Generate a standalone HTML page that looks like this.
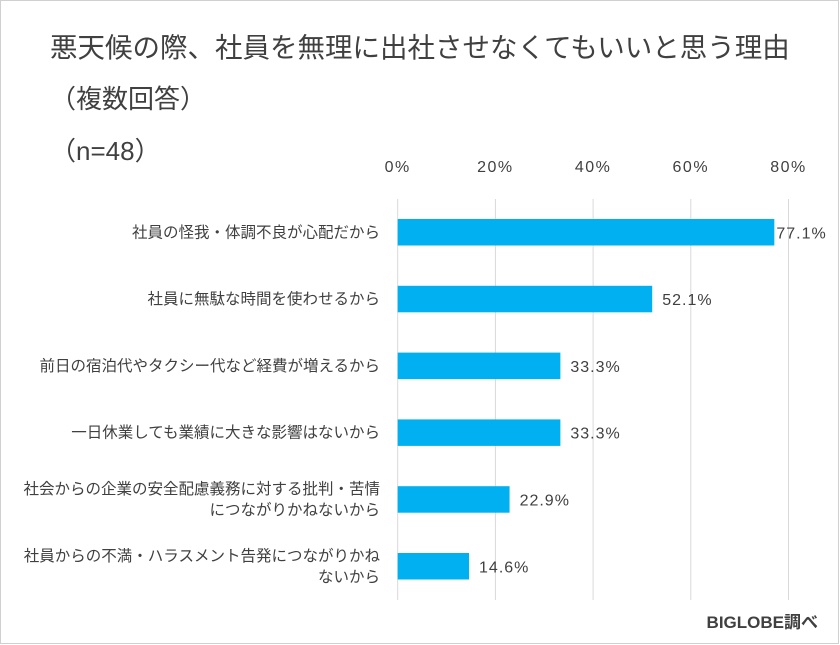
<!DOCTYPE html>
<html><head><meta charset="utf-8">
<style>
body{margin:0;background:#fff;}
#c{position:relative;width:840px;height:645px;overflow:hidden;font-family:"Liberation Sans","Noto Sans CJK JP",sans-serif;}
</style></head>
<body>
<div id="c">
<svg id="svg" width="840" height="645" xmlns="http://www.w3.org/2000/svg">
<rect x="0.5" y="0.5" width="838" height="643" fill="#fff" stroke="#d0d0d0"/>
<text x="50" y="57" font-size="27.5" fill="#404040" font-family="Liberation Sans, Noto Sans CJK JP, sans-serif">悪天候の際、社員を無理に出社させなくてもいいと思う理由</text>
<text x="50" y="108" font-size="26" fill="#404040" font-family="Liberation Sans, Noto Sans CJK JP, sans-serif">（複数回答）</text>
<text x="50" y="160" font-size="26" fill="#404040" font-family="Liberation Sans, Noto Sans CJK JP, sans-serif">（n=48）</text>
<g id="grid"></g><g id="bars"></g>
<text x="818" y="628" font-size="17" font-weight="bold" fill="#404040" text-anchor="end" font-family="Liberation Sans, Noto Sans CJK JP, sans-serif">BIGLOBE調べ</text>
</svg>
</div>
<script>
const categories=[["社員の怪我・体調不良が心配だから"],["社員に無駄な時間を使わせるから"],["前日の宿泊代やタクシー代など経費が増えるから"],["一日休業しても業績に大きな影響はないから"],["社会からの企業の安全配慮義務に対する批判・苦情","につながりかねないから"],["社員からの不満・ハラスメント告発につながりかね","ないから"]];
const values=[77.1,52.1,33.3,33.3,22.9,14.6];
const ticks=[0,20,40,60,80];
const NS="http://www.w3.org/2000/svg";
const x0=397.7,pxPer=4.885,yTop=219,step=66.8,bh=26.5;
function xs(v){return x0+v*pxPer;}
function ys(i){return yTop+i*step;}
const grid=document.getElementById('grid'),bars=document.getElementById('bars');
function mk(tag,attrs,parent){const e=document.createElementNS(NS,tag);for(const k in attrs)e.setAttribute(k,attrs[k]);parent.appendChild(e);return e;}
ticks.forEach(t=>{
 const l=mk('line',{x1:xs(t),x2:xs(t),y1:199,y2:600,stroke:'#d9d9d9','stroke-width':1},grid);
 
 
 const tx=mk('text',{x:xs(t),y:172,'font-size':16,fill:'#404040','text-anchor':'middle','letter-spacing':'1.5'},grid);
 tx.textContent=t+'%';
 
 
});
values.forEach((v,i)=>{
 const r=mk('rect',{x:x0,y:ys(i),width:xs(v)-x0,height:bh,fill:'#00b0f0'},bars);
 
 
 const lb=mk('text',{x:xs(v)+(v>70?2:10),y:ys(i)+bh/2+6,'font-size':16,fill:'#404040','letter-spacing':'1'},bars);
 lb.textContent=v.toFixed(1)+'%';
 
 
 const lines=categories[i];
 lines.forEach((s,j)=>{
  const cy=ys(i)+bh/2+5+(j-(lines.length-1)/2)*21;
  const c=mk('text',{x:380,y:cy,'font-size':15.5,fill:'#404040','text-anchor':'end'},bars);
  c.textContent=s;
  
  
 });
});
</script>
</body></html>
